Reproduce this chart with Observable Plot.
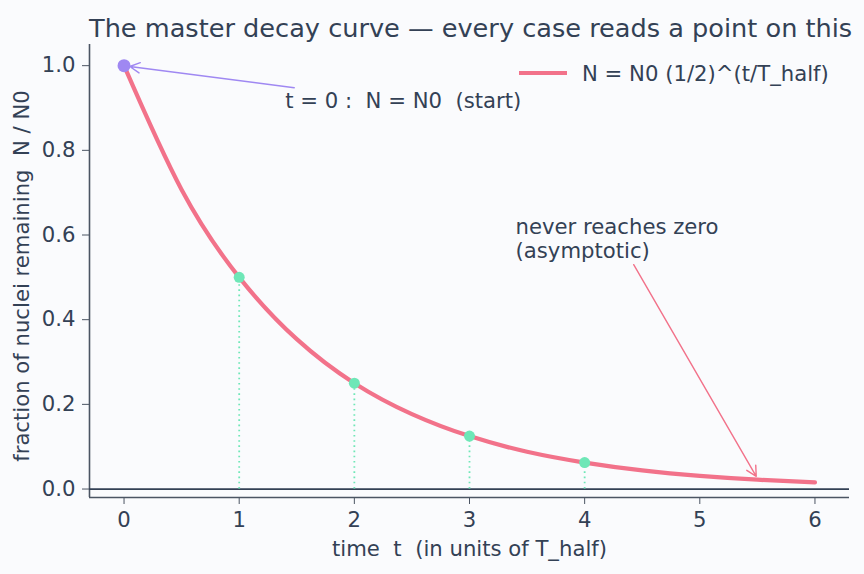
<!DOCTYPE html>
<html>
<head>
<meta charset="utf-8">
<script src="https://cdn.jsdelivr.net/npm/d3@7"></script>
<script src="https://cdn.jsdelivr.net/npm/@observablehq/plot@0.6"></script>
<style>
  html, body { margin: 0; padding: 0; background: #fafbfd; }
  #wrap { position: relative; width: 864px; height: 574px; font-family: "DejaVu Sans", sans-serif; color: #334155; }
  #title { height: 40px; line-height: 56px; font-size: 25.6px; text-align: center; padding-left: 89px; padding-right: 15px; white-space: pre; }
  #legend { position: absolute; left: 519px; top: 60px; height: 26px; display: flex; align-items: center; font-size: 21.2px; white-space: pre; }
  #legend .sw { width: 48px; height: 4px; background: #f2728a; margin-right: 15px; }
  svg text { white-space: pre; }
</style>
</head>
<body>
<div id="wrap">
  <div id="title">The master decay curve — every case reads a point on this</div>
  <div id="plot"></div>
  <div id="legend"><span class="sw"></span><span>N = N0 (1/2)^(t/T_half)</span></div>
</div>
<script>
// ---- data ----
const curveT = [0, 0.5, 1, 1.5, 2, 2.5, 3, 3.5, 4, 4.5, 5, 5.5, 6];
const curveN = [1.0, 0.707, 0.5, 0.354, 0.25, 0.177, 0.125, 0.088, 0.0625, 0.044, 0.031, 0.022, 0.0156];
const markT = [1, 2, 3, 4];
const markN = [0.5, 0.25, 0.125, 0.0625];
const startT = [0];
const startN = [1.0];
const xTicks = [0, 1, 2, 3, 4, 5, 6];
const yTicks = [0.0, 0.2, 0.4, 0.6, 0.8, 1.0];
const xDomain = [-0.3, 6.3];
const yDomain = [-0.02, 1.05];
const xLabel = "time  t  (in units of T_half)";
const yLabel = "fraction of nuclei remaining  N / N0";
const annoStartText = ["t = 0 :  N = N0  (start)"];
const annoStartPos = [1.40, 0.915];
const annoStartArrow = [1.478, 0.948, 0.05, 0.998];
const annoZeroText = ["never reaches zero\n(asymptotic)"];
const annoZeroPos = [3.40, 0.592];
const annoZeroArrow = [4.426, 0.53, 5.49, 0.03];

const curve = curveT.map((t, i) => ({t, n: curveN[i]}));
const marks = markT.map((t, i) => ({t, n: markN[i]}));
const start = startT.map((t, i) => ({t, n: startN[i]}));

const RED = "#f2728a", GREEN = "#6ee7b7", PURPLE = "#9f88f2", INK = "#334155", SPINE = "#4b5563";
const FS = 21.2;

const chart = Plot.plot({
  width: 864,
  height: 534,
  marginTop: 4,
  marginBottom: 77,
  marginLeft: 89,
  marginRight: 15,
  style: {background: "transparent", fontFamily: "DejaVu Sans, sans-serif", color: INK, fontSize: FS + "px"},
  x: {domain: xDomain},
  y: {domain: yDomain},
  marks: [
    Plot.axisX({ticks: xTicks, tickSize: 7, tickPadding: 7, label: null, fontSize: FS, stroke: SPINE, tickFormat: d3.format("d")}),
    Plot.axisY({ticks: yTicks, tickSize: 7, tickPadding: 7, label: null, fontSize: FS, stroke: SPINE, tickFormat: d3.format(".1f")}),
    Plot.ruleX([xDomain[0]], {stroke: SPINE, strokeWidth: 1.6}),
    Plot.ruleY([yDomain[0]], {stroke: SPINE, strokeWidth: 1.6}),
    Plot.ruleY([0], {stroke: INK, strokeWidth: 1.8}),
    Plot.ruleX(marks, {x: "t", y1: 0, y2: "n", stroke: GREEN, strokeWidth: 1.8, strokeDasharray: "1.6,3.6"}),
    Plot.line(curve, {x: "t", y: "n", curve: "natural", stroke: RED, strokeWidth: 4.2}),
    Plot.dot(marks, {x: "t", y: "n", r: 5.5, fill: GREEN}),
    Plot.dot(start, {x: "t", y: "n", r: 6.5, fill: PURPLE}),
    Plot.arrow([annoStartArrow], {x1: d => d[0], y1: d => d[1], x2: d => d[2], y2: d => d[3], stroke: PURPLE, strokeWidth: 1.4, headLength: 12, headAngle: 55, insetStart: 0, insetEnd: 0}),
    Plot.arrow([annoZeroArrow], {x1: d => d[0], y1: d => d[1], x2: d => d[2], y2: d => d[3], stroke: RED, strokeWidth: 1.4, headLength: 12, headAngle: 55, insetStart: 0, insetEnd: 0}),
    Plot.text(annoStartText, {x: annoStartPos[0], y: annoStartPos[1], text: d => d, textAnchor: "start", lineAnchor: "middle", fontSize: FS, fill: INK}),
    Plot.text(annoZeroText, {x: annoZeroPos[0], y: annoZeroPos[1], text: d => d, textAnchor: "start", lineAnchor: "middle", lineHeight: 1.1, fontSize: FS, fill: INK}),
    Plot.text([xLabel], {frameAnchor: "bottom", dy: 52, text: d => d, textAnchor: "middle", lineAnchor: "middle", fontSize: FS, fill: INK}),
    Plot.text([yLabel], {frameAnchor: "left", dx: -67, dy: 5, rotate: -90, text: d => d, textAnchor: "middle", lineAnchor: "middle", fontSize: FS, fill: INK})
  ]
});
document.getElementById("plot").appendChild(chart);
</script>
</body>
</html>
